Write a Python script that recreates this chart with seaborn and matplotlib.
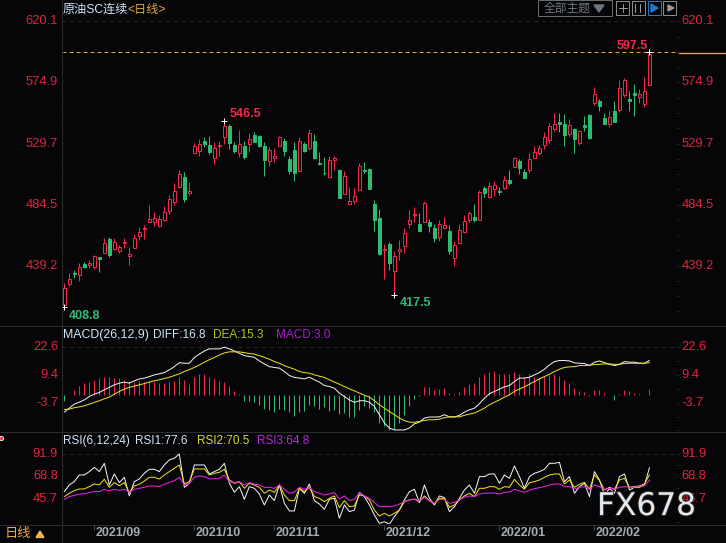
import numpy as np
import pandas as pd
import matplotlib
matplotlib.use("Agg")
import matplotlib.pyplot as plt
import matplotlib.patheffects as pe
from matplotlib.patches import Rectangle, Polygon
from matplotlib.lines import Line2D
import seaborn as sns

# --- daily candles ---
highs = [426.1,433.6,436,441,442,443.4,447.1,445.7,459.7,460.5,
         459.5,454.8,459.5,452.8,462.4,467.6,469.3,484.2,478.7,476.5,
         483.2,491.6,500.7,510.1,508.6,501,529.9,532.8,534.8,535.3,
         530.6,531.8,546.5,543.9,530.6,539.7,531.8,537.3,538,536,
         531,526.9,526.6,535.5,533.8,520.5,530.8,534.3,530.8,540.2,
         536.5,523.2,519.5,520.5,520.7,511,509.6,497.3,496.5,515.1,
         515.8,511.3,487.9,481,455.3,456.8,450.1,458.3,466.9,480.5,
         482.7,478,486.9,473.6,469.9,472.8,475.3,469.1,457.3,469.9,
         476.5,479.5,484.9,495,498,501,502,497.3,505.7,510.1,
         519.5,518.2,511,522.5,527.9,528.6,538,544.7,552.3,552.3,
         551.3,547.9,541.5,539.7,550.1,551.3,571.3,562.4,552,553.5,
         561,576.8,578,568.4,573.8,570.1,578.7,597.5]
lows = [408.8,424.4,430.4,428.1,437.5,437.8,437,434.8,448.4,445.9,
        450.8,448.9,452.6,439.7,452.3,458.5,459,471.6,468.9,467.9,
        472.3,477.8,484.2,496.8,486.4,491.6,522.7,520.5,527.1,521.7,
        514.8,520.7,529.6,525.6,522.5,520,518.5,523.4,530.6,527.4,
        505.9,513.3,516.3,527.6,520.7,507.1,502,508.6,523.7,525.2,
        518.5,513.8,506.4,504.4,510,489,492.3,484.9,485.2,495.3,
        508,496,464.9,447.1,429.4,436,417.5,443.4,448.6,467.1,
        471.6,464.7,471.6,464.2,456.8,457.5,467.1,447.9,439,456,
        463.4,471.8,471.8,473.1,490.3,489.6,491.1,491.8,496.3,499,
        512.1,507.1,504.4,508.1,519,521.5,525.6,530.1,539.2,538.5,
        527.9,535.3,522.9,528.4,539.2,533.3,558.2,553.8,544.2,541.9,
        545.4,553,564.4,553.8,550.1,560,556.8,573.3]
opens = [410.1,425.7,433.6,432.3,440.5,440,438.3,445.4,448.9,459,
         451.6,450.1,456.3,446.6,452.6,461.5,466.2,471.8,471.8,468.9,
         473,480,486.6,497.3,504.9,492.8,522.9,524.4,531.3,528.6,
         519.2,528.1,534.8,542.7,528.6,522.7,527.9,529.6,536,535.3,
         527.9,516.8,519.2,528.1,531.6,518.3,524.9,509,529.1,526.6,
         531.3,515,508.1,505.2,517.3,510,492.6,485.2,487.1,495.3,
         510.3,510.5,484.9,474.5,450.8,455.3,435.3,450.4,453.8,470.1,
         477,470.1,471.8,471.6,467.1,460.7,467.1,464.9,445.2,456.3,
         464.2,473.1,475.3,473.1,496.5,490.1,496.3,494.5,497,502.4,
         512.6,516.5,508.4,510,519.2,522.9,528.6,532.3,540.5,545.4,
         544.2,536.8,540.5,529.9,543.2,550.8,559.7,561,548.4,544.2,
         553.8,554.3,565.6,562.7,566.9,564.4,559.2,573.3]
closes = [422.5,429.1,433.1,438,438.3,441,446.4,444.4,455.8,447.1,
          456.5,453.3,456.8,447.6,459.5,463.9,466.9,473.6,474.3,473.6,
          478.7,488.6,494.5,507.1,488.6,494.5,527.6,529.4,529.6,523.4,
          526.2,528.9,542.5,530.1,524.2,529.1,519.7,532.8,530.8,527.9,
          517.5,524.7,520.5,534.3,524.2,509,508,531.4,524.2,537.3,
          519.2,514.5,507.6,517.3,518.8,489.6,505.7,486.9,490.8,513.1,
          509.3,496,473.1,447.9,451.6,441.2,446.4,451.6,463.2,472.8,
          477.8,464.9,485.4,468.6,459.7,469.9,469.1,450.1,454.5,465.4,
          472.1,478.2,473.1,493.6,493.1,498,498.7,494,502.4,500.5,
          518.8,511.6,504.4,518,523.2,526.4,534.5,542.7,544.2,544.4,
          536,543.2,533,539,542.2,533.6,566.2,557.5,544.2,549.4,
          545.4,570.6,576.5,561.2,565.6,566.2,568.4,595.8]

# --- MACD panel ---
macd_hist = [-3.1,0.1,2.4,4.2,5.6,6,7.1,7.9,8.3,8.3,7.9,7.9,7.1,6.3,6,6.3,6,6.3,6,5.7,
             5.7,6,6.6,8.6,7.1,5,8.6,9.7,9.9,8.6,7.4,6.3,6,4.2,1.6,0.3,
             -2.8,-3.1,-3.6,-4.7,-6.6,-7,-7.9,-6.6,-7.4,-8.3,-10.2,-8.2,-7.5,-4.7,-5.5,-6.8,-5.8,-7.5,-7,
             -9.1,-8.6,-10.5,-10.7,-7.4,
             -5.5,-6.3,-8.2,-13.3,-14.9,-16.5,-16,-13.3,-9.7,-5.5,-1.9,-0.8,
             3.5,3.5,2.4,2.8,3.3,0.9,0.5,1.4,3.5,5.2,5.7,8.6,10,10.8,11.3,10,9.7,9.6,10.8,10,8.6,9.7,
             8.6,8.3,8.9,9.4,9.7,8.9,6.8,5.7,3.1,1.9,1.1,-0.8,2.2,2.4,0.8,-0.3,-2.4,0.3,2.4,1.6,0.9,0.5,-0.3,2.8]
macd_diff = [-8.2,-6.3,-4.4,-3.5,-2.4,-0.8,0.3,1.1,2.4,3.5,4.7,5.5,6,5.5,6.6,7.5,7.9,8.6,9.4,9.9,
             10.5,11.8,13.3,15.2,14.9,14.9,17.6,19.2,20.7,21.7,21.7,21.7,22.5,21.7,20.7,19.6,18.5,18.1,17.7,16,
             14.6,13.3,12.9,12.6,11,9.1,8.2,7.9,7.5,8.3,7.1,6,4.4,3.9,3.1,0.8,-0.8,-2.4,-3.6,-2.8,
             -2.8,-3.5,-5.5,-9.4,-13.3,-15.7,-16.6,-16.6,-16.6,-15.7,-13.7,-12.9,-11,-10.5,-10.5,-10.4,-9.4,-10.4,
             -10.5,-9.7,-8.2,-7.1,-6.3,-4.2,-1.6,0.5,1.6,2.7,3.8,4.4,6.3,7.9,7.9,8.3,9.4,10.5,12.1,14.1,15.7,16.2,
             16.2,16,15.1,14.9,14.8,13.8,15.4,16,15.2,14.4,13.8,14.4,15.7,15.4,15.4,14.9,14.9,16.3]
macd_dea = [-6.9,-6.8,-6.1,-5.7,-5.2,-4.4,-3.6,-2.8,-1.9,-1.1,0.3,1.6,2.7,3.5,4.1,4.7,5.3,6,6.6,7.1,
            7.7,8.3,9.1,9.9,11,11.9,12.9,14.1,15.4,16.6,17.6,18.8,19.8,20.3,20.3,20.3,19.9,19.5,19.2,18.5,
            17.7,16.8,15.7,14.9,13.8,12.9,12.1,11,10.5,10.2,9.4,8.8,8.2,7.1,6,5,3.9,2.8,1.9,0.8,
            -0.2,-1.1,-2.8,-4.7,-6.3,-7.9,-9.4,-11,-12.2,-12.9,-13,-12.6,-12.1,-11.8,-11.8,-11.5,-10.8,-10.4,
            -10.4,-10.4,-9.7,-9.1,-8.6,-7.5,-6.3,-4.7,-3.5,-2.4,-1.1,0,1.6,2.8,3.8,5,6.3,7.5,8.6,9.7,11,12.1,
            12.9,13.2,13.3,13.8,13.8,14,14.3,14.4,14.6,14.6,14.4,14.4,14.8,14.9,14.9,14.9,14.9,15.2]

# --- RSI panel ---
rsi1 = [53.2,60,63.4,70.2,70.2,73.6,78,73.6,82.1,60,71.2,62.4,67.8,48.8,63.4,66.1,71.9,76,76,73.6,
        80.4,85.5,87.2,91.6,57.6,61.7,80.4,80.4,80.4,71.2,73.6,76,82.1,61.7,52.5,58.3,45.4,58.3,56.6,50.8,
        39.6,49.8,44,60,41.3,33.5,33.5,56.6,51.5,61,44,40.6,35.2,45.4,46.4,26,39.6,32.8,34.5,52.5,
        48.1,39.6,29.4,20.9,22.6,19.9,27.7,34.5,44.7,53.2,55.6,42,60,46.4,39.6,48.8,47.1,32.8,37.9,46.4,
        54.9,60,51.5,68.5,68.5,71.2,71.2,61.7,70.2,66.8,79.4,68.5,56.6,68.5,71.9,73.6,76,82.1,82.1,83.1,
        63.4,68.5,51.5,58.3,61.7,48.1,73.6,65.1,49.8,56.6,51.5,68.5,71.2,54.9,57.6,57.6,60,77.6]
rsi2 = [48.1,51.5,54.2,55.9,55.9,58.3,61,60,65.8,57.6,62.4,59.3,62.4,52.2,59,60.7,64,67.8,67.8,66.1,
        70.2,73.6,77,80.4,61,63.4,76.3,76.3,76.3,70.2,71.9,72.9,76,65.1,61.7,63.4,56.6,61.7,60,57.6,
        51.5,54.9,52.5,60,49.8,44,44,56.6,53.2,57.6,48.1,46.4,43,46.4,48.8,36.9,44,37.9,38.6,49.8,
        48.8,44.7,34.5,28.4,31.1,28.4,31.1,34.5,43,44.7,45.4,43,48.8,44,40.6,46.4,46.4,37.2,39.6,44.7,
        48.8,51.5,48.1,56.6,56.6,58.3,58.3,55.6,58.3,57.6,65.8,60,55.6,62.4,63.4,65.1,67.8,70.2,71.2,71.2,
        61,65.1,57.6,60.7,62.7,55.6,70.2,64.4,54.9,57.6,55.6,65.1,66.8,57.6,58.3,59,61,70.5]
rsi3 = [45.4,48.1,49.4,50.5,51.1,52.2,53.5,53.2,55.6,53.9,55.6,54.5,55.6,52.5,55.6,56.6,57.6,59,59,58.3,
        60.7,62.7,64.4,67.8,60,61.7,67.8,69.2,68.5,66.1,66.4,66.4,70.2,63.4,62.4,63.4,60,62.4,61,60,
        57.6,57.6,56.6,60,55.6,51.5,52.8,57.6,55.6,57.3,53.2,51.5,49.8,50.8,52.2,45.7,48.8,44,45.4,52.2,
        48.8,46.4,42,37.9,38.2,37.9,38.6,40.6,43,44.7,45.7,44,47.1,44,41.3,45.4,45,41.3,42.3,44.7,
        47.4,48.8,48.1,50.8,51.5,51.8,51.8,50.8,52.5,52.8,55.6,53.9,52.5,54.9,56.2,57.3,58.3,60,61,61,
        58.3,58.3,55.9,57.6,58.3,55.6,60,58.3,55.6,56.6,55.9,57.6,58.3,57.6,57.6,58.3,59.3,64.8]

# --- axis text ---
price_ticks = [620.1, 574.9, 529.7, 484.5, 439.2]
macd_ticks = [22.6, 9.4, -3.7]
rsi_ticks = [91.9, 68.8, 45.7]
date_pos = [6, 26, 42, 64, 87, 106]
date_labels = ["2021/09", "2021/10", "2021/11", "2021/12", "2022/01", "2022/02"]

BG = "#060608"
RED = "#f5284a"
GREEN = "#2dbd72"
AXIS = "#2b2b2b"
AXTXT = "#e0243f"
W, H = 726, 543
THIN = 0.72  # one pixel at 100 dpi

sns.set_theme(style="dark", rc={"axes.facecolor": BG, "figure.facecolor": BG})
plt.rcParams["font.family"] = ["Liberation Sans", "Noto Sans CJK SC", "DejaVu Sans"]

fig = plt.figure(figsize=(W / 100, H / 100), dpi=100)


def panel(top, bottom, ylim):
    # panels are placed in pixels so the three share the same x range
    ax = fig.add_axes([61.5 / W, 1 - bottom / H, (679 - 61.5) / W, (bottom - top) / H])
    ax.set_xlim(-0.56, 122.9)
    ax.set_ylim(*ylim)
    ax.set_facecolor(BG)
    ax.grid(False)
    ax.set_xticks([])
    for s in ax.spines.values():
        s.set_visible(False)
    return ax


def ftext(x, y, s, **kw):
    kw.setdefault("va", "center")
    return fig.text(x / W, 1 - y / H, s, **kw)


def yaxis_labels(ax, ticks, minor_step):
    # same numbers both sides, dark dashed line at the top tick
    ax.axhline(ticks[0], color="#262626", lw=THIN, ls=(0, (4, 4)))
    ax.set_yticks([])
    lo, hi = ax.get_ylim()
    base = np.arange(ticks[0], lo, -minor_step)
    ax.hlines(base, -0.56, -0.2, color="#3a3a3a", lw=THIN)
    ax.hlines(base, 122.5, 122.9, color="#3a3a3a", lw=THIN)
    for t in ticks:
        ax.annotate(f"{t}", (0, t), xycoords=("axes fraction", "data"), xytext=(-2.5, 0),
                    textcoords="offset points", ha="right", va="center", color=AXTXT, fontsize=9.3)
        ax.annotate(f"{t}", (1, t), xycoords=("axes fraction", "data"), xytext=(2, 0),
                    textcoords="offset points", ha="left", va="center", color=AXTXT, fontsize=9.3)


idx = np.arange(len(closes))

# main candles
ax_k = panel(0, 325, (395.3, 636))
yaxis_labels(ax_k, price_ticks, 45.2 / 4)
for i in idx:
    up = closes[i] >= opens[i]
    col = RED if up else GREEN
    ax_k.vlines(i, lows[i], highs[i], color=col, lw=THIN, zorder=2, snap=True)
    body_lo, body_hi = min(opens[i], closes[i]), max(opens[i], closes[i])
    ax_k.bar(i, max(body_hi - body_lo, 0.5), bottom=body_lo, width=0.48,
             facecolor=BG if up else col, edgecolor=col, lw=THIN, zorder=3)

# last close line
ax_k.axhline(highs[-1], color="#e8a33d", lw=THIN, ls=(0, (4, 3)), zorder=1)
fig.add_artist(Line2D([679 / W, 1], [1 - 53.3 / H] * 2, color="#e8a33d", lw=1))

# high / low marks
ax_k.plot([32, 0, 66, 117], [546.5, 408.8, 417.5, 597.5], ls="", marker="+", color="white",
          ms=5, mew=THIN, zorder=5)
ax_k.annotate("546.5", (32, 546.5), xytext=(4, 2.8), textcoords="offset points", color=RED,
              fontsize=9, fontweight="bold")
ax_k.annotate("597.5", (117, 597.5), xytext=(-1.2, 2), textcoords="offset points", ha="right",
              color=RED, fontsize=9, fontweight="bold")
ax_k.annotate("408.8", (0, 408.8), xytext=(3, -9), textcoords="offset points", color=GREEN,
              fontsize=9, fontweight="bold")
ax_k.annotate("417.5", (66, 417.5), xytext=(3.5, -8), textcoords="offset points", color=GREEN,
              fontsize=9, fontweight="bold")

# MACD
ax_m = panel(326, 431, (-17.1, 32.5))
yaxis_labels(ax_m, macd_ticks, 13.15 / 2)
hist = np.array(macd_hist)
ax_m.vlines(idx[hist >= 0], 0, hist[hist >= 0], color=RED, lw=THIN, snap=True)
ax_m.vlines(idx[hist < 0], 0, hist[hist < 0], color=GREEN, lw=THIN, snap=True)
df_macd = pd.DataFrame({"i": idx, "diff": macd_diff, "dea": macd_dea})
sns.lineplot(data=df_macd, x="i", y="diff", ax=ax_m, color="#f2f2f2", lw=THIN, legend=False)
sns.lineplot(data=df_macd, x="i", y="dea", ax=ax_m, color="#f0e01a", lw=THIN, legend=False)

# RSI
ax_r = panel(432, 524, (20.2, 114))
yaxis_labels(ax_r, rsi_ticks, 23.1 / 2)
df_rsi = pd.DataFrame({"i": idx, "r1": rsi1, "r2": rsi2, "r3": rsi3})
sns.lineplot(data=df_rsi, x="i", y="r1", ax=ax_r, color="#f2f2f2", lw=THIN, legend=False)
sns.lineplot(data=df_rsi, x="i", y="r2", ax=ax_r, color="#f0e01a", lw=THIN, legend=False)
sns.lineplot(data=df_rsi, x="i", y="r3", ax=ax_r, color="#ee22ee", lw=THIN, legend=False)

for ax in (ax_k, ax_m, ax_r):
    ax.set_xlabel("")
    ax.set_ylabel("")
    ax.set_yticks([])
    ax.set_xticks([])

# frame lines
for y in (325.5, 431.5, 524.5):
    fig.add_artist(Line2D([0, 1], [1 - y / H] * 2, color=AXIS, lw=THIN))
fig.add_artist(Line2D([61.5 / W] * 2, [1 - 543 / H, 1], color=AXIS, lw=THIN))

# dates
for pos, lab in zip(date_pos, date_labels):
    px = 64.3 + 5 * pos
    fig.add_artist(Line2D([px / W] * 2, [1 - 525 / H, 1 - 530 / H], color="#444444", lw=THIN))
    ftext(px + 1, 533.5, lab, color="#a3acb4", fontsize=9, fontweight="bold", ha="left")

# headers
LIGHT = "#cfe6f7"
ftext(63, 10, "原油SC连续", color=LIGHT, fontsize=8.7)
ftext(127, 10, "<日线>", color="#e6a544", fontsize=8.7)
ftext(63, 335, "MACD(26,12,9)", color=LIGHT, fontsize=8.9)
ftext(153, 335, "DIFF:16.8", color=LIGHT, fontsize=8.5)
ftext(213, 335, "DEA:15.3", color="#b8c41c", fontsize=8.5)
ftext(276, 335, "MACD:3.0", color="#a81ccc", fontsize=8.5)
ftext(63, 441, "RSI(6,12,24)", color=LIGHT, fontsize=8.5)
ftext(135, 441, "RSI1:77.6", color=LIGHT, fontsize=8.5)
ftext(197, 441, "RSI2:70.5", color="#d8dc1e", fontsize=8.5)
ftext(257, 441, "RSI3:64.8", color="#b824e0", fontsize=8.5)
ftext(5, 534, "日线", color="#eda945", fontsize=9.5)
fig.add_artist(Polygon([[36 / W, 1 - 537.5 / H], [44 / W, 1 - 537.5 / H], [40 / W, 1 - 531 / H]],
                       closed=True, color="#f0b050", transform=fig.transFigure))
fig.add_artist(Line2D([1 / W], [1 - 438 / H], marker="o", ms=3, color="#ff3030", mec="white", mew=0.6))

# toolbar, top right
fig.add_artist(Rectangle((537.5 / W, 1 - 15.5 / H), 74 / W, 15 / H, transform=fig.transFigure,
                         fill=False, ec="#6a6a6a", lw=THIN))
ftext(544, 8.5, "全部主题", color="#6e7780", fontsize=8.5)
fig.add_artist(Polygon([[594 / W, 1 - 5 / H], [604 / W, 1 - 5 / H], [599 / W, 1 - 12 / H]],
                       closed=True, color="#6e7780", transform=fig.transFigure))
for x0, ec in zip((616, 631.5, 647.5, 663), ("#8a8a8a", "#8a8a8a", "#1f78c8", "#8a8a8a")):
    fig.add_artist(Rectangle((x0 / W, 1 - 14.5 / H), 13 / W, 13 / H, transform=fig.transFigure,
                             fill=False, ec=ec, lw=THIN))
fig.add_artist(Line2D([622.5 / W] * 2, [1 - 4 / H, 1 - 12 / H], color="#9a9a9a", lw=THIN))
fig.add_artist(Line2D([618.5 / W, 626.5 / W], [1 - 8 / H] * 2, color="#9a9a9a", lw=THIN))
fig.add_artist(Line2D([635 / W] * 2, [1 - 4 / H, 1 - 12 / H], color="#9a9a9a", lw=THIN))
fig.add_artist(Line2D([640 / W] * 2, [1 - 4 / H, 1 - 12 / H], color="#9a9a9a", lw=THIN))
fig.add_artist(Polygon([[651 / W, 1 - 4 / H], [651 / W, 1 - 12 / H], [658 / W, 1 - 8 / H]],
                       closed=True, color="#1f78c8", transform=fig.transFigure))
fig.add_artist(Polygon([[668 / W, 1 - 5 / H], [668 / W, 1 - 11 / H], [674 / W, 1 - 8 / H]],
                       closed=True, color="#9a9a9a", transform=fig.transFigure))

# watermark, DejaVu for its wide letters
wm = ftext(597, 506.5, "FX678", color="#dfe9f3", fontsize=22.5, ha="left", zorder=10,
           family="DejaVu Sans")
wm.set_path_effects([pe.withStroke(linewidth=1.2, foreground="#3a2a1c")])

fig.savefig("out.png", dpi=100, facecolor=BG)
